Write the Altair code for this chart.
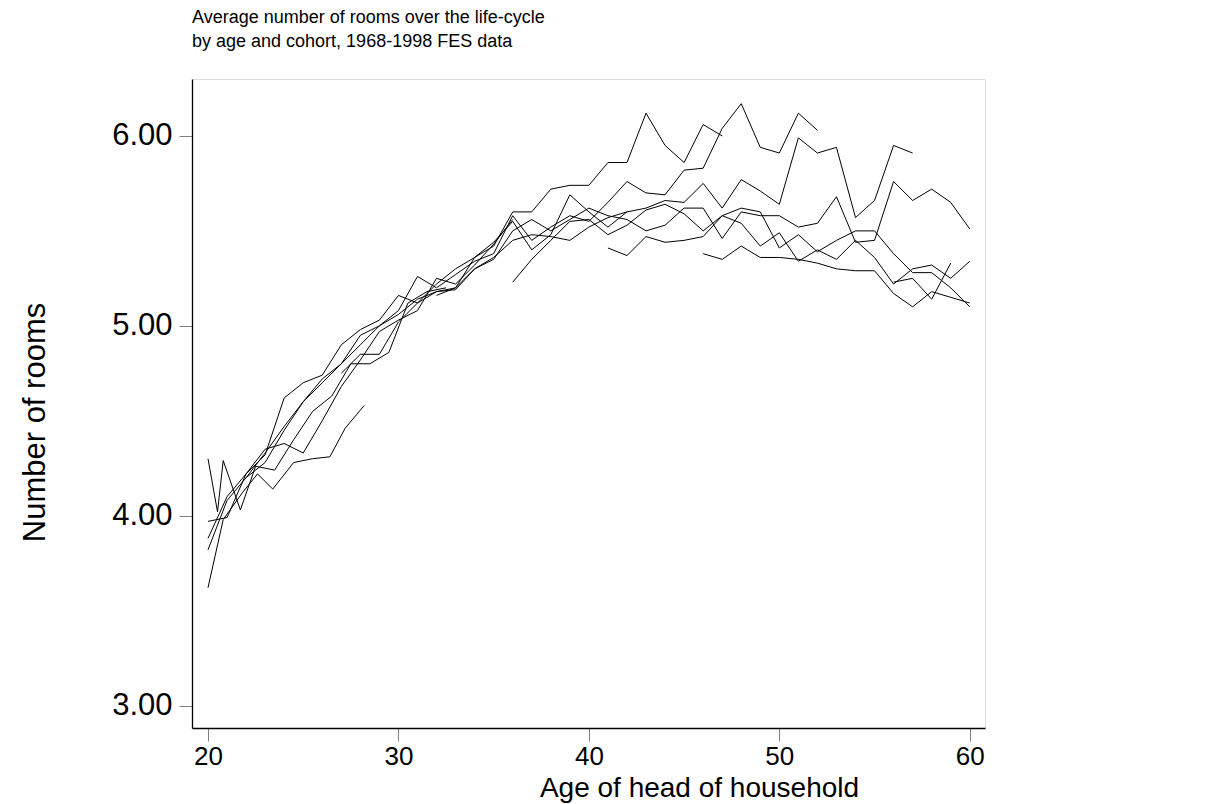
import altair as alt
import pandas as pd

# cohort series: ages and average number of rooms
A_age = [20.0, 20.8, 21.8, 22.6, 23.4, 24.5, 25.5, 26.4, 27.2, 28.2]
A_val = [3.62, 3.98, 4.12, 4.22, 4.14, 4.28, 4.30, 4.31, 4.46, 4.58]

B_age = [20.0, 20.5, 20.8, 21.7, 22.5, 23.5, 24.5, 25.5, 26.5, 27.5, 28.5, 29.5, 30.5, 31.5, 32.5]
B_val = [4.30, 4.02, 4.29, 4.03, 4.26, 4.24, 4.40, 4.55, 4.63, 4.80, 4.80, 4.86, 5.12, 5.18, 5.20]

C_age = [20.0 + k for k in range(17)]
C_val = [3.97, 3.99, 4.22, 4.35, 4.38, 4.33, 4.50, 4.68, 4.82, 4.97, 5.03, 5.08, 5.25, 5.22, 5.32, 5.43, 5.56]

D_age = [20.0 + k for k in range(23)]
D_val = [3.82, 4.08, 4.20, 4.33, 4.47, 4.60, 4.70, 4.80, 4.90, 5.00, 5.06, 5.14, 5.18, 5.20, 5.36, 5.44,
         5.55, 5.40, 5.48, 5.69, 5.60, 5.52, 5.60]

E_age = [20] + list(range(21, 48))
E_val = [3.88, 4.10, 4.22, 4.32, 4.62, 4.70, 4.74, 4.90, 4.98, 5.03, 5.16, 5.12, 5.22, 5.30, 5.36, 5.42, 5.60,
         5.60, 5.72, 5.74, 5.74, 5.86, 5.86, 6.12, 5.95, 5.86, 6.06, 6.00]

F_age = list(range(22, 53))
F_val = [4.20, 4.28, 4.45, 4.60, 4.72, 4.80, 4.95, 5.00, 5.08, 5.26, 5.20, 5.27, 5.34, 5.38, 5.58, 5.45,
         5.52, 5.58, 5.55, 5.65, 5.76, 5.70, 5.69, 5.82, 5.83, 6.04, 6.17, 5.94, 5.91, 6.12, 6.03]

G_age = list(range(27, 58))
G_val = [4.75, 4.85, 4.85, 5.02, 5.12, 5.18, 5.19, 5.30, 5.36, 5.45, 5.48, 5.47, 5.45, 5.52, 5.57, 5.60,
         5.62, 5.66, 5.65, 5.75, 5.62, 5.77, 5.71, 5.64, 5.99, 5.91, 5.94, 5.57, 5.66, 5.95, 5.91]

H_age = list(range(32, 61))
H_val = [5.16, 5.20, 5.30, 5.35, 5.50, 5.56, 5.50, 5.56, 5.62, 5.58, 5.56, 5.50, 5.53, 5.62, 5.62, 5.46,
         5.60, 5.58, 5.58, 5.52, 5.54, 5.68, 5.44, 5.45, 5.76, 5.66, 5.72, 5.65, 5.51]

I_age = list(range(36, 61))
I_val = [5.23, 5.35, 5.45, 5.55, 5.56, 5.48, 5.53, 5.61, 5.64, 5.59, 5.50, 5.58, 5.54, 5.42, 5.49, 5.34,
         5.40, 5.35, 5.45, 5.36, 5.22, 5.30, 5.32, 5.25, 5.34]

J_age = list(range(41, 61))
J_val = [5.41, 5.37, 5.47, 5.44, 5.45, 5.47, 5.58, 5.62, 5.60, 5.41, 5.48, 5.39, 5.45, 5.50, 5.50, 5.38,
         5.28, 5.28, 5.20, 5.10]

K_age = list(range(46, 61))
K_val = [5.38, 5.35, 5.42, 5.36, 5.36, 5.35, 5.33, 5.30, 5.29, 5.29, 5.17, 5.10, 5.18, 5.15, 5.12]

M_age = [56, 57, 58, 59]
M_val = [5.23, 5.25, 5.14, 5.33]

x_ticks = [20, 30, 40, 50, 60]
y_ticks = [3, 4, 5, 6]

series = {"A": (A_age, A_val), "B": (B_age, B_val), "C": (C_age, C_val), "D": (D_age, D_val),
          "E": (E_age, E_val), "F": (F_age, F_val), "G": (G_age, G_val), "H": (H_age, H_val),
          "I": (I_age, I_val), "J": (J_age, J_val), "K": (K_age, K_val), "M": (M_age, M_val)}

rows = []
for name, (ages, vals) in series.items():
    for i, (a, v) in enumerate(zip(ages, vals)):
        rows.append({"cohort": name, "age": a, "rooms": v, "order": i})
df = pd.DataFrame(rows)

FONT = "Liberation Sans"

chart = alt.Chart(df).mark_line(color="black", strokeWidth=1).encode(
    x=alt.X("age:Q",
            scale=alt.Scale(domain=[19.16, 60.8], nice=False, zero=False),
            axis=alt.Axis(values=x_ticks, title="Age of head of household",
                          grid=False, domainColor="black", domainWidth=1.3,
                          tickColor="#808080", tickSize=13, labelFontSize=26, labelFont=FONT,
                          labelColor="black", labelPadding=2, titleFont=FONT, titleFontSize=28,
                          titleFontWeight="normal", titleColor="black",
                          titleX=507, titleY=68, titleAlign="center", titleBaseline="alphabetic")),
    y=alt.Y("rooms:Q",
            scale=alt.Scale(domain=[2.8815, 6.300], nice=False, zero=False),
            axis=alt.Axis(values=y_ticks, format=".2f", title="Number of rooms",
                          grid=False, domainColor="black", domainWidth=1.3,
                          tickColor="#808080", tickSize=13, labelFontSize=31, labelFont=FONT,
                          labelColor="black", labelPadding=7, titleFont=FONT, titleFontSize=31,
                          titleFontWeight="normal", titleColor="black",
                          titleX=-157, titleY=343, titleAngle=270, titleAlign="center",
                          titleBaseline="middle")),
    detail="cohort:N",
    order="order:Q",
).properties(
    width=793,
    height=649,
    title=alt.TitleParams(
        text=["Average number of rooms over the life-cycle", "by age and cohort, 1968-1998 FES data"],
        anchor="start", frame="group", font=FONT, fontSize=18, fontWeight="normal", color="black",
        lineHeight=24, offset=28),
    autosize=alt.AutoSizeParams(type="none"),
    padding={"left": 184, "top": 71, "right": 10, "bottom": 76},
).configure_view(stroke=None).configure(background="white")

chart.save("out.html", embed_options={"renderer": "svg", "actions": False})
